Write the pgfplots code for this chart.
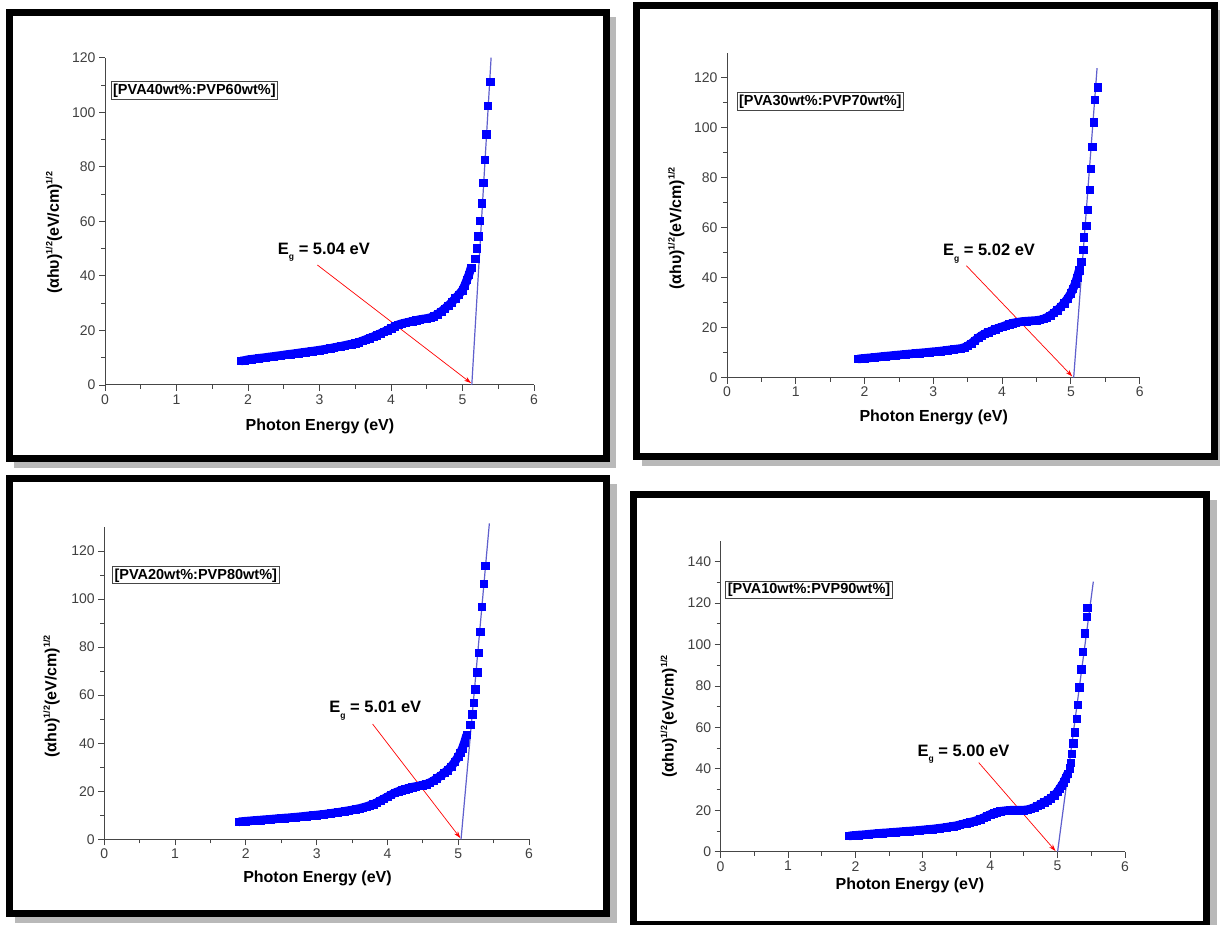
\documentclass[border=0pt]{standalone}
\usepackage{fontspec}
\setmainfont{Liberation Sans}
\usepackage{pgfplots}
\usepackage{pgfplotstable}
\pgfplotsset{compat=1.18}
\usetikzlibrary{arrows.meta}
\definecolor{mk}{RGB}{0,0,255}
\definecolor{fitc}{RGB}{95,95,205}
\definecolor{axc}{RGB}{70,70,70}
\definecolor{shadowc}{RGB}{185,185,185}
\newcommand{\sq}{\raisebox{6.5pt}{\fontsize{9}{9}\selectfont 1/2}}
\newcommand{\Eg}[1]{E\raisebox{-5.5pt}{\fontsize{8.5}{8.5}\selectfont g} = #1 eV}

\pgfplotstableread{
x y
1.90 8.8
1.95 9.0
2.00 9.3
2.05 9.45
2.10 9.6
2.15 9.8
2.20 9.95
2.25 10.1
2.30 10.3
2.35 10.45
2.40 10.65
2.45 10.8
2.50 11.0
2.55 11.2
2.60 11.35
2.65 11.5
2.70 11.7
2.75 11.9
2.80 12.05
2.85 12.25
2.90 12.4
2.95 12.6
3.00 12.8
3.05 13.0
3.10 13.2
3.15 13.45
3.20 13.7
3.25 13.95
3.30 14.2
3.35 14.5
3.40 14.8
3.45 15.0
3.50 15.3
3.55 15.7
3.60 16.2
3.65 16.7
3.70 17.2
3.75 17.7
3.80 18.3
3.85 18.9
3.90 19.5
3.95 20.1
4.00 20.8
4.05 21.5
4.10 22.1
4.15 22.5
4.20 22.8
4.25 23.1
4.30 23.4
4.35 23.7
4.40 24.0
4.45 24.2
4.50 24.4
4.55 24.7
4.60 25.2
4.65 25.9
4.70 26.9
4.75 28.0
4.80 29.1
4.85 30.4
4.90 31.8
4.95 33.2
5.00 34.8
5.03 36.5
5.06 38.5
5.09 40.5
5.12 43.0
5.18 46.2
5.20 50.1
5.22 54.6
5.24 60.2
5.27 66.6
5.29 74.2
5.31 82.7
5.33 92.0
5.35 102.3
5.39 111.2
}\dA

\pgfplotstableread{
x y
1.90 7.5
1.95 7.6
2.00 7.75
2.05 7.9
2.10 8.0
2.15 8.15
2.20 8.3
2.25 8.45
2.30 8.6
2.35 8.7
2.40 8.85
2.45 9.0
2.50 9.1
2.55 9.25
2.60 9.35
2.65 9.5
2.70 9.6
2.75 9.75
2.80 9.85
2.85 10.0
2.90 10.1
2.95 10.25
3.00 10.4
3.05 10.5
3.10 10.65
3.15 10.8
3.20 11.0
3.25 11.15
3.30 11.35
3.35 11.5
3.40 11.7
3.45 12.1
3.50 12.8
3.55 13.7
3.60 14.8
3.65 15.9
3.70 16.9
3.75 17.6
3.80 18.2
3.85 18.8
3.90 19.4
3.95 19.9
4.00 20.4
4.05 20.9
4.10 21.4
4.15 21.8
4.20 22.1
4.25 22.3
4.30 22.5
4.35 22.6
4.40 22.7
4.45 22.8
4.50 22.9
4.55 23.1
4.60 23.5
4.65 24.1
4.70 24.9
4.75 25.9
4.80 27.0
4.85 28.3
4.90 29.8
4.95 31.6
5.00 33.8
5.03 35.5
5.06 37.5
5.09 40.0
5.12 43.0
5.15 46.4
5.18 51.1
5.19 56.2
5.22 60.7
5.24 67.3
5.27 75.3
5.29 83.5
5.31 92.4
5.33 102.2
5.35 111.1
5.39 116.2
}\dB

\pgfplotstableread{
x y
1.90 7.3
1.95 7.4
2.00 7.55
2.05 7.65
2.10 7.8
2.15 7.9
2.20 8.0
2.25 8.15
2.30 8.25
2.35 8.35
2.40 8.5
2.45 8.6
2.50 8.7
2.55 8.85
2.60 8.95
2.65 9.1
2.70 9.2
2.75 9.35
2.80 9.5
2.85 9.65
2.90 9.8
2.95 9.95
3.00 10.1
3.05 10.25
3.10 10.4
3.15 10.6
3.20 10.8
3.25 11.0
3.30 11.2
3.35 11.45
3.40 11.7
3.45 11.95
3.50 12.2
3.55 12.5
3.60 12.8
3.65 13.2
3.70 13.6
3.75 14.1
3.80 14.6
3.85 15.3
3.90 16.1
3.95 16.9
4.00 17.7
4.05 18.5
4.10 19.3
4.15 19.9
4.20 20.5
4.25 20.9
4.30 21.3
4.35 21.7
4.40 22.0
4.45 22.3
4.50 22.6
4.55 23.0
4.60 23.6
4.65 24.4
4.70 25.4
4.75 26.4
4.80 27.6
4.85 28.8
4.90 30.2
4.95 32.2
5.00 34.4
5.03 36.0
5.06 38.0
5.09 40.5
5.12 43.5
5.17 47.6
5.20 52.0
5.22 56.8
5.24 62.4
5.27 69.5
5.29 77.7
5.31 86.4
5.33 96.8
5.36 106.5
5.38 113.9
}\dC

\pgfplotstableread{
x y
1.90 7.6
1.95 7.75
2.00 7.9
2.05 8.05
2.10 8.15
2.15 8.3
2.20 8.45
2.25 8.6
2.30 8.7
2.35 8.85
2.40 9.0
2.45 9.1
2.50 9.2
2.55 9.35
2.60 9.45
2.65 9.6
2.70 9.7
2.75 9.85
2.80 9.95
2.85 10.1
2.90 10.2
2.95 10.35
3.00 10.5
3.05 10.65
3.10 10.8
3.15 10.95
3.20 11.15
3.25 11.35
3.30 11.55
3.35 11.8
3.40 12.05
3.45 12.3
3.50 12.6
3.55 13.0
3.60 13.4
3.65 13.8
3.70 14.2
3.75 14.6
3.80 15.1
3.85 15.7
3.90 16.4
3.95 17.2
4.00 18.0
4.05 18.6
4.10 19.1
4.15 19.5
4.20 19.7
4.25 19.9
4.30 20.0
4.35 20.0
4.40 20.0
4.45 20.05
4.50 20.1
4.55 20.3
4.60 20.7
4.65 21.3
4.70 22.1
4.75 23.0
4.80 23.9
4.85 24.8
4.90 25.8
4.95 27.2
5.00 29.0
5.03 30.5
5.06 32.0
5.09 33.5
5.12 35.5
5.15 37.8
5.18 40.3
5.19 43.0
5.21 47.2
5.23 52.3
5.25 57.6
5.28 64.1
5.30 70.9
5.32 79.4
5.35 88.1
5.37 96.6
5.40 105.4
5.43 113.5
5.44 117.9
}\dD

\pgfplotsset{
  panel/.style={
    scale only axis,
    anchor=south west,
    axis lines=left,
    axis line style={-, axc, line width=1pt},
    xmin=0, xmax=6, ymin=0,
    xtick={0,1,2,3,4,5,6},
    minor x tick num=1,
    minor y tick num=1,
    tick align=outside,
    major tick length=6pt,
    minor tick length=4pt,
    every tick/.style={axc, line width=0.9pt},
    tick label style={font=\fontsize{14}{16}\selectfont, text=black!75},
    /pgf/number format/assume math mode=true,
    xlabel={\bfseries Photon Energy (eV)},
    ylabel={\bfseries (αhυ)\sq(eV/cm)\sq},
    label style={font=\fontsize{16}{18}\selectfont},
    clip=false,
  },
  dots/.style={only marks, mark=square*, mark size=3.7pt, mk, mark options={draw=mk, fill=mk}},
  band/.style={mk, line width=8.6pt, no marks, line join=round, forget plot},
  fitl/.style={fitc, line width=1.2pt, no marks},
}
\tikzset{
  arr/.style={red, line width=0.7pt, -{Stealth[length=7pt,width=4.5pt]}},
  egl/.style={anchor=base west, font=\bfseries\fontsize{16.5}{18}\selectfont},
  boxl/.style={draw=axc, line width=0.9pt, inner xsep=2pt, inner ysep=1.8pt, anchor=west, font=\bfseries\fontsize{14.5}{16}\selectfont},
}

\newcommand{\frm}[4]{%
  \fill[shadowc] (#1+5,925-#2-5) rectangle (#3+10,925-#4-10);
  \filldraw[fill=white, draw=black, line width=7pt] (#1,925-#2) rectangle (#3,925-#4);
}

\begin{document}
\begin{tikzpicture}[x=1pt,y=1pt]
\useasboundingbox (0,0) rectangle (1220,925);
\fill[white] (0,0) rectangle (1220,925);
\frm{9}{12.5}{606}{458.5}
\frm{636.5}{5.5}{1214}{456.5}
\frm{9.5}{479}{606.5}{913.5}
\frm{633.4}{495}{1206.5}{925}

% Panel 1
\begin{axis}[panel, at={(105pt,540pt)}, width=429pt, height=327.3pt, ymax=120,
  ytick={0,20,...,120},
  xlabel style={at={(axis description cs:0.501,0)}, anchor=center, yshift=-41pt},
  ylabel style={at={(axis description cs:-0.119,0.465)}, anchor=center}]
\addplot[band, restrict x to domain=1.8:5.13] table[x=x,y=y] {\dA};
\addplot[dots] table[x=x,y=y] {\dA};
\addplot[fitl] coordinates {(5.13,0) (5.40,120)};
\draw[arr] (axis cs:2.97,44) -- (axis cs:5.12,0.7);
\node[egl] at (axis cs:2.37,48) {\Eg{5.04}};
\node[boxl] at (axis cs:0.08,108) {[PVA40wt\%:PVP60wt\%]};
\end{axis}

% Panel 2
\begin{axis}[panel, at={(727pt,547.3pt)}, width=412.7pt, height=325pt, ymax=130,
  ytick={0,20,...,120},
  xlabel style={at={(axis description cs:0.501,0)}, anchor=center, yshift=-39.6pt},
  ylabel style={at={(axis description cs:-0.123,0.459)}, anchor=center}]
\addplot[band, restrict x to domain=1.8:5.13] table[x=x,y=y] {\dB};
\addplot[dots] table[x=x,y=y] {\dB};
\addplot[fitl] coordinates {(5.04,0) (5.38,123.8)};
\draw[arr] (axis cs:3.48,44.8) -- (axis cs:5.02,0.5);
\node[egl] at (axis cs:3.09,48.7) {\Eg{5.02}};
\node[boxl] at (axis cs:0.14,110.5) {[PVA30wt\%:PVP70wt\%]};
\end{axis}

% Panel 3
\begin{axis}[panel, at={(104.3pt,85.7pt)}, width=424.7pt, height=312.3pt, ymax=130,
  ytick={0,20,...,120},
  xlabel style={at={(axis description cs:0.502,0)}, anchor=center, yshift=-39pt},
  ylabel style={at={(axis description cs:-0.124,0.457)}, anchor=center}]
\addplot[band, restrict x to domain=1.8:5.13] table[x=x,y=y] {\dC};
\addplot[dots] table[x=x,y=y] {\dC};
\addplot[fitl] coordinates {(5.04,0) (5.44,131.5)};
\draw[arr] (axis cs:3.79,48) -- (axis cs:5.03,0.5);
\node[egl] at (axis cs:3.13,52.7) {\Eg{5.01}};
\node[boxl] at (axis cs:0.11,109.9) {[PVA20wt\%:PVP80wt\%]};
\end{axis}

% Panel 4
\begin{axis}[panel, at={(720.6pt,73.3pt)}, width=404.4pt, height=310.7pt, ymax=150,
  ytick={0,20,...,140},
  xlabel style={at={(axis description cs:0.468,0)}, anchor=center, yshift=-34pt},
  ylabel style={at={(axis description cs:-0.128,0.435)}, anchor=center}]
\addplot[band, restrict x to domain=1.8:5.16] table[x=x,y=y] {\dD};
\addplot[dots] table[x=x,y=y] {\dD};
\addplot[fitl] coordinates {(5.00,0) (5.53,130.4)};
\draw[arr] (axis cs:3.83,43) -- (axis cs:4.97,0.3);
\node[egl] at (axis cs:2.87,46.2) {\Eg{5.00}};
\node[boxl] at (axis cs:0.07,126.4) {[PVA10wt\%:PVP90wt\%]};
\end{axis}
\end{tikzpicture}
\end{document}
